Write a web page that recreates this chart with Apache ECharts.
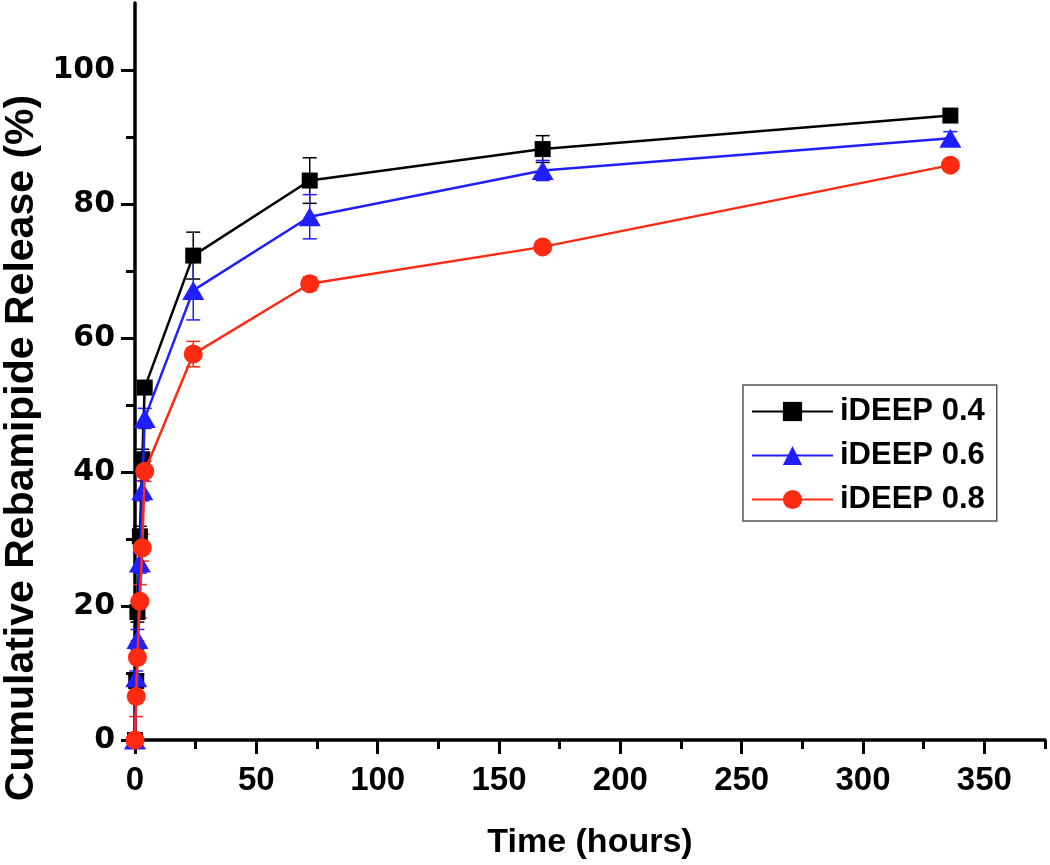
<!DOCTYPE html>
<html>
<head>
<meta charset="utf-8">
<title>Cumulative Rebamipide Release</title>
<script src="https://cdn.jsdelivr.net/npm/echarts@6/dist/echarts.min.js"></script>
<style>
    html, body { margin: 0; padding: 0; background: #fff; }
    #chart { width: 1050px; height: 865px; }
</style>
</head>
<body>
<div id="chart"></div>
<script>
// sampling times (hours)
var times = [0, 0.5, 1, 2, 3, 4, 24, 72, 168, 336];

var names = ['iDEEP 0.4', 'iDEEP 0.6', 'iDEEP 0.8'];
var colors = ['#000000', '#1f1fff', '#ff2a12'];
var symbols = ['rect', 'triangle', 'circle'];

// cumulative release (%)
var release04 = [0, 8.8, 19.1, 30.4, 41.9, 52.6, 72.3, 83.5, 88.2, 93.2];
var release06 = [0, 9.3, 15.0, 26.4, 37.2, 48.0, 67.1, 78.1, 85.0, 89.8];
var release08 = [0, 6.5, 12.3, 20.7, 28.7, 40.1, 57.6, 68.1, 73.6, 85.8];

// standard deviation
var err04 = [0, 1.0, 1.5, 1.5, 1.5, 1.0, 3.5, 3.4, 2.0, 0.5];
var err06 = [0, 1.0, 1.5, 1.5, 1.5, 1.5, 4.4, 3.3, 1.5, 1.0];
var err08 = [0, 3.0, 2.5, 2.5, 2.0, 1.5, 1.9, 1.0, 0.5, 0.5];

// axis ticks
var xMajor = [0, 50, 100, 150, 200, 250, 300, 350];
var xMinor = [25, 75, 125, 175, 225, 275, 325, 375];
var yMajor = [0, 20, 40, 60, 80, 100];
var yMinor = [10, 30, 50, 70, 90];

(function () {
    var chart = echarts.init(document.getElementById('chart'));

    var allValues = [release04, release06, release08];
    var allErrs = [err04, err06, err08];

    function pairs(vals) {
        return times.map(function (t, i) { return [t, vals[i]]; });
    }

    function errData(vals, errs) {
        return times.map(function (t, i) { return [t, vals[i], errs[i]]; });
    }

    function errRender(color) {
        return function (params, api) {
            var x = api.value(0), y = api.value(1), e = api.value(2);
            if (!e) return null;
            var top = api.coord([x, y + e]);
            var bot = api.coord([x, y - e]);
            var w = 7;
            var style = { stroke: color, lineWidth: 1.5 };
            return {
                type: 'group',
                children: [
                    { type: 'line', shape: { x1: top[0], y1: top[1], x2: bot[0], y2: bot[1] }, style: style },
                    { type: 'line', shape: { x1: top[0] - w, y1: top[1], x2: top[0] + w, y2: top[1] }, style: style },
                    { type: 'line', shape: { x1: bot[0] - w, y1: bot[1], x2: bot[0] + w, y2: bot[1] }, style: style }
                ]
            };
        };
    }

    var series = [];
    // error bars first, under the markers
    for (var i = 0; i < 3; i++) {
        series.push({
            name: 'err ' + names[i],
            type: 'custom',
            renderItem: errRender(colors[i]),
            data: errData(allValues[i], allErrs[i]),
            z: 1,
            clip: false,
            silent: true
        });
    }
    var sizes = [16, [22, 19], 19];
    for (var j = 0; j < 3; j++) {
        series.push({
            name: names[j],
            type: 'line',
            data: pairs(allValues[j]),
            symbol: symbols[j],
            symbolSize: sizes[j],
            showAllSymbol: true,
            lineStyle: { color: colors[j], width: 2.5 },
            itemStyle: { color: colors[j] },
            z: 2 + j,
            animation: false
        });
    }

    var axisFontX = { color: '#000', fontFamily: '"Liberation Sans", Arial', fontWeight: 'bold', fontSize: 33 };
    var axisFontY = { color: '#000', fontFamily: '"DejaVu Sans"', fontWeight: 'bold', fontSize: 30 };
    var axisLine = { show: true, onZero: false, lineStyle: { color: '#000', width: 3.5 } };

    var option = {
        animation: false,
        backgroundColor: '#fff',
        grid: { left: 135, right: 5, top: 3, bottom: 124 },
        legend: {
            data: names,
            orient: 'vertical',
            left: 743,
            top: 385,
            width: 255,
            padding: [11, 12, 6, 8],
            borderColor: '#555',
            borderWidth: 1.5,
            itemWidth: 81,
            itemHeight: 24,
            itemGap: 13,
            textStyle: { color: '#000', fontFamily: '"Liberation Sans", Arial', fontWeight: 'bold', fontSize: 31, padding: [0, 0, 0, 2] }
        },
        xAxis: [{
            type: 'value',
            min: 0,
            max: 375,
            interval: 25,
            position: 'bottom',
            name: 'Time (hours)',
            nameLocation: 'middle',
            nameGap: 86,
            nameTextStyle: { color: '#000', fontFamily: '"Liberation Sans", Arial', fontWeight: 'bold', fontSize: 34 },
            axisLine: axisLine,
            axisTick: { show: true, length: 14, customValues: xMajor, lineStyle: { color: '#000', width: 3 } },
            axisLabel: Object.assign({ margin: 24, customValues: xMajor }, axisFontX),
            splitLine: { show: false }
        }, {
            type: 'value',
            min: 0,
            max: 375,
            position: 'bottom',
            axisLine: { show: false },
            axisTick: { show: true, length: 9, customValues: xMinor, lineStyle: { color: '#000', width: 3 } },
            axisLabel: { show: false },
            splitLine: { show: false }
        }],
        yAxis: [{
            type: 'value',
            min: 0,
            max: 110,
            interval: 10,
            position: 'left',
            axisLine: axisLine,
            axisTick: { show: true, length: 14, customValues: yMajor, lineStyle: { color: '#000', width: 3 } },
            axisLabel: Object.assign({ margin: 20, customValues: yMajor }, axisFontY),
            splitLine: { show: false }
        }, {
            type: 'value',
            min: 0,
            max: 110,
            position: 'left',
            axisLine: { show: false },
            axisTick: { show: true, length: 9, customValues: yMinor, lineStyle: { color: '#000', width: 3 } },
            axisLabel: { show: false },
            splitLine: { show: false }
        }],
        graphic: [{
            type: 'text',
            x: 22,
            y: 448,
            rotation: Math.PI / 2,
            style: {
                text: 'Cumulative Rebamipide Release (%)',
                fill: '#000',
                font: 'bold 41px "Liberation Sans", Arial',
                align: 'center',
                verticalAlign: 'middle'
            }
        }],
        series: series
    };
    chart.setOption(option);
    window.addEventListener('resize', function () {
        chart.resize();
    });
})();
</script>
</body>
</html>
